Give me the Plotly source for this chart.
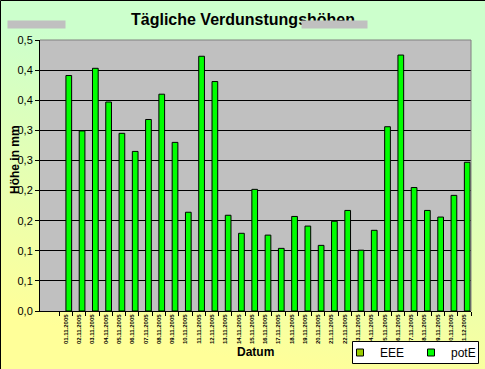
import base64
import plotly.graph_objects as go

# ---- data ----
dates = ["01.11.2005", "02.11.2005", "03.11.2005", "04.11.2005", "05.11.2005",
         "06.11.2005", "07.11.2005", "08.11.2005", "09.11.2005", "10.11.2005",
         "11.11.2005", "12.11.2005", "13.11.2005", "14.11.2005", "15.11.2005",
         "16.11.2005", "17.11.2005", "18.11.2005", "19.11.2005", "20.11.2005",
         "21.11.2005", "22.11.2005", "23.11.2005", "24.11.2005", "25.11.2005",
         "26.11.2005", "27.11.2005", "28.11.2005", "29.11.2005", "30.11.2005",
         "01.12.2005"]
potE = [0.391, 0.299, 0.403, 0.347, 0.295, 0.265, 0.318, 0.360, 0.280, 0.164,
        0.423, 0.381, 0.159, 0.129, 0.202, 0.126, 0.104, 0.157, 0.141, 0.109,
        0.149, 0.167, 0.101, 0.134, 0.306, 0.425, 0.205, 0.167, 0.156, 0.192,
        0.247]
EEE = [None] * len(dates)
y_tickvals = [0.0, 0.05, 0.10, 0.15, 0.20, 0.25, 0.30, 0.35, 0.40, 0.45]
y_ticktext = ["0,0", "0,1", "0,1", "0,2", "0,2", "0,3", "0,3", "0,4", "0,4", "0,5"]

# ---- geometry helpers (pixel -> paper) ----
W, H = 485, 369
L, R, T, B = 40, 14, 40, 58
PW, PH = W - L - R, H - T - B


def px(x):
    return (x - L) / PW


def py(y):
    return (H - B - y) / PH


FONT = "Liberation Sans, Arial, sans-serif"

svg = ('<svg xmlns="http://www.w3.org/2000/svg" width="485" height="369" preserveAspectRatio="none">'
       '<defs><linearGradient id="g" x1="0.62" y1="0" x2="0.38" y2="1">'
       '<stop offset="0" stop-color="#CCFFCC"/><stop offset="0.2" stop-color="#CCFFCC"/>'
       '<stop offset="0.95" stop-color="#FFFF99"/><stop offset="1" stop-color="#FFFF99"/>'
       '</linearGradient></defs>'
       '<rect width="485" height="369" fill="url(#g)"/></svg>')
bg_src = "data:image/svg+xml;base64," + base64.b64encode(svg.encode()).decode()

fig = go.Figure()
fig.add_trace(go.Bar(x=dates, y=EEE, name="EEE", marker=dict(color="#99CC00", line=dict(color="black", width=1)),
                     showlegend=False))
fig.add_trace(go.Bar(x=dates, y=potE, name="potE", marker=dict(color="#00FF00", line=dict(color="black", width=1)),
                     showlegend=False))
# legend entries
fig.add_trace(go.Scatter(x=[dates[0]], y=[None], mode="markers", name="EEE",
                         marker=dict(symbol="square", size=7, color="#99CC00", line=dict(color="black", width=1))))
fig.add_trace(go.Scatter(x=[dates[0]], y=[None], mode="markers", name="potE",
                         marker=dict(symbol="square", size=7, color="#00FF00", line=dict(color="black", width=1))))

fig.update_layout(
    width=W, height=H,
    margin=dict(l=L, r=R, t=T, b=B, pad=0, autoexpand=False),
    paper_bgcolor="#CCFFCC",
    plot_bgcolor="rgba(0,0,0,0)",
    barmode="group", bargap=0.14, bargroupgap=0,
    font=dict(family=FONT, color="black"),
    showlegend=True,
    legend=dict(orientation="h", xref="container", yref="container",
                x=340 / W, y=1 - 352.5 / H, xanchor="left", yanchor="middle",
                bgcolor="rgba(0,0,0,0)", borderwidth=0,
                font=dict(family=FONT, size=12, color="black"),
                itemwidth=30, entrywidth=26, tracegroupgap=0),
    xaxis=dict(type="category", tickangle=-90, tickson="boundaries", ticks="outside", ticklen=4,
               tickcolor="black", showline=True, linecolor="black", linewidth=1, showgrid=False,
               tickfont=dict(family=FONT, size=6, color="black", weight="bold"),
               fixedrange=True, automargin=False),
    yaxis=dict(range=[0, 0.45], tickvals=y_tickvals, ticktext=y_ticktext, ticks="outside", ticklen=4,
               tickcolor="black", showline=True, linecolor="black", linewidth=1,
               showgrid=True, gridcolor="black", gridwidth=1, zeroline=False,
               tickfont=dict(family=FONT, size=11, color="black"), fixedrange=True, automargin=False),
    images=[dict(source=bg_src, xref="paper", yref="paper", x=px(0), y=py(0),
                 sizex=W / PW, sizey=H / PH, sizing="stretch", layer="below", xanchor="left", yanchor="top")],
    shapes=[
        dict(type="rect", xref="paper", yref="paper", x0=0, x1=1, y0=0, y1=1,
             fillcolor="#C0C0C0", line=dict(width=0), layer="below"),
        dict(type="path", xref="paper", yref="paper", path="M0,1 L1,1 L1,0",
             line=dict(color="#808080", width=1), layer="above"),
        dict(type="rect", xref="paper", yref="paper", x0=px(0.5), y0=py(H + 5), x1=px(W + 5), y1=py(0.5),
             line=dict(color="black", width=1), fillcolor="rgba(0,0,0,0)", layer="above"),
        # legend frame
        dict(type="rect", xref="paper", yref="paper", x0=px(352.5), y0=py(363.5), x1=px(478.5), y1=py(341.5),
             line=dict(color="black", width=1), fillcolor="white", layer="above"),
    ],
    annotations=[
        dict(text="Tägliche Verdunstungshöhen", xref="paper", yref="paper", x=px(243), y=py(19.5),
             xanchor="center", yanchor="middle", showarrow=False,
             font=dict(family=FONT, size=16, color="black", weight="bold")),
        dict(text=" ", xref="paper", yref="paper", x=px(7), y=py(20), xanchor="left", yanchor="top",
             width=57, height=7, bgcolor="#C0C0C0", borderpad=0, showarrow=False, font=dict(size=1)),
        dict(text=" ", xref="paper", yref="paper", x=px(301), y=py(20), xanchor="left", yanchor="top",
             width=65, height=7, bgcolor="#C0C0C0", borderpad=0, showarrow=False, font=dict(size=1)),
        dict(text="Höhe in mm", xref="paper", yref="paper", x=px(15), y=py(160), textangle=-90,
             xanchor="center", yanchor="middle", showarrow=False,
             font=dict(family=FONT, size=12, color="black", weight="bold")),
        dict(text="Datum", xref="paper", yref="paper", x=px(255), y=py(352),
             xanchor="center", yanchor="middle", showarrow=False,
             font=dict(family=FONT, size=12, color="black", weight="bold")),
    ],
)

fig.write_html("out.html", config={"displayModeBar": False},
               post_script="document.body.style.margin='0';document.body.style.padding='0';"
                           "document.body.style.overflow='hidden';")
